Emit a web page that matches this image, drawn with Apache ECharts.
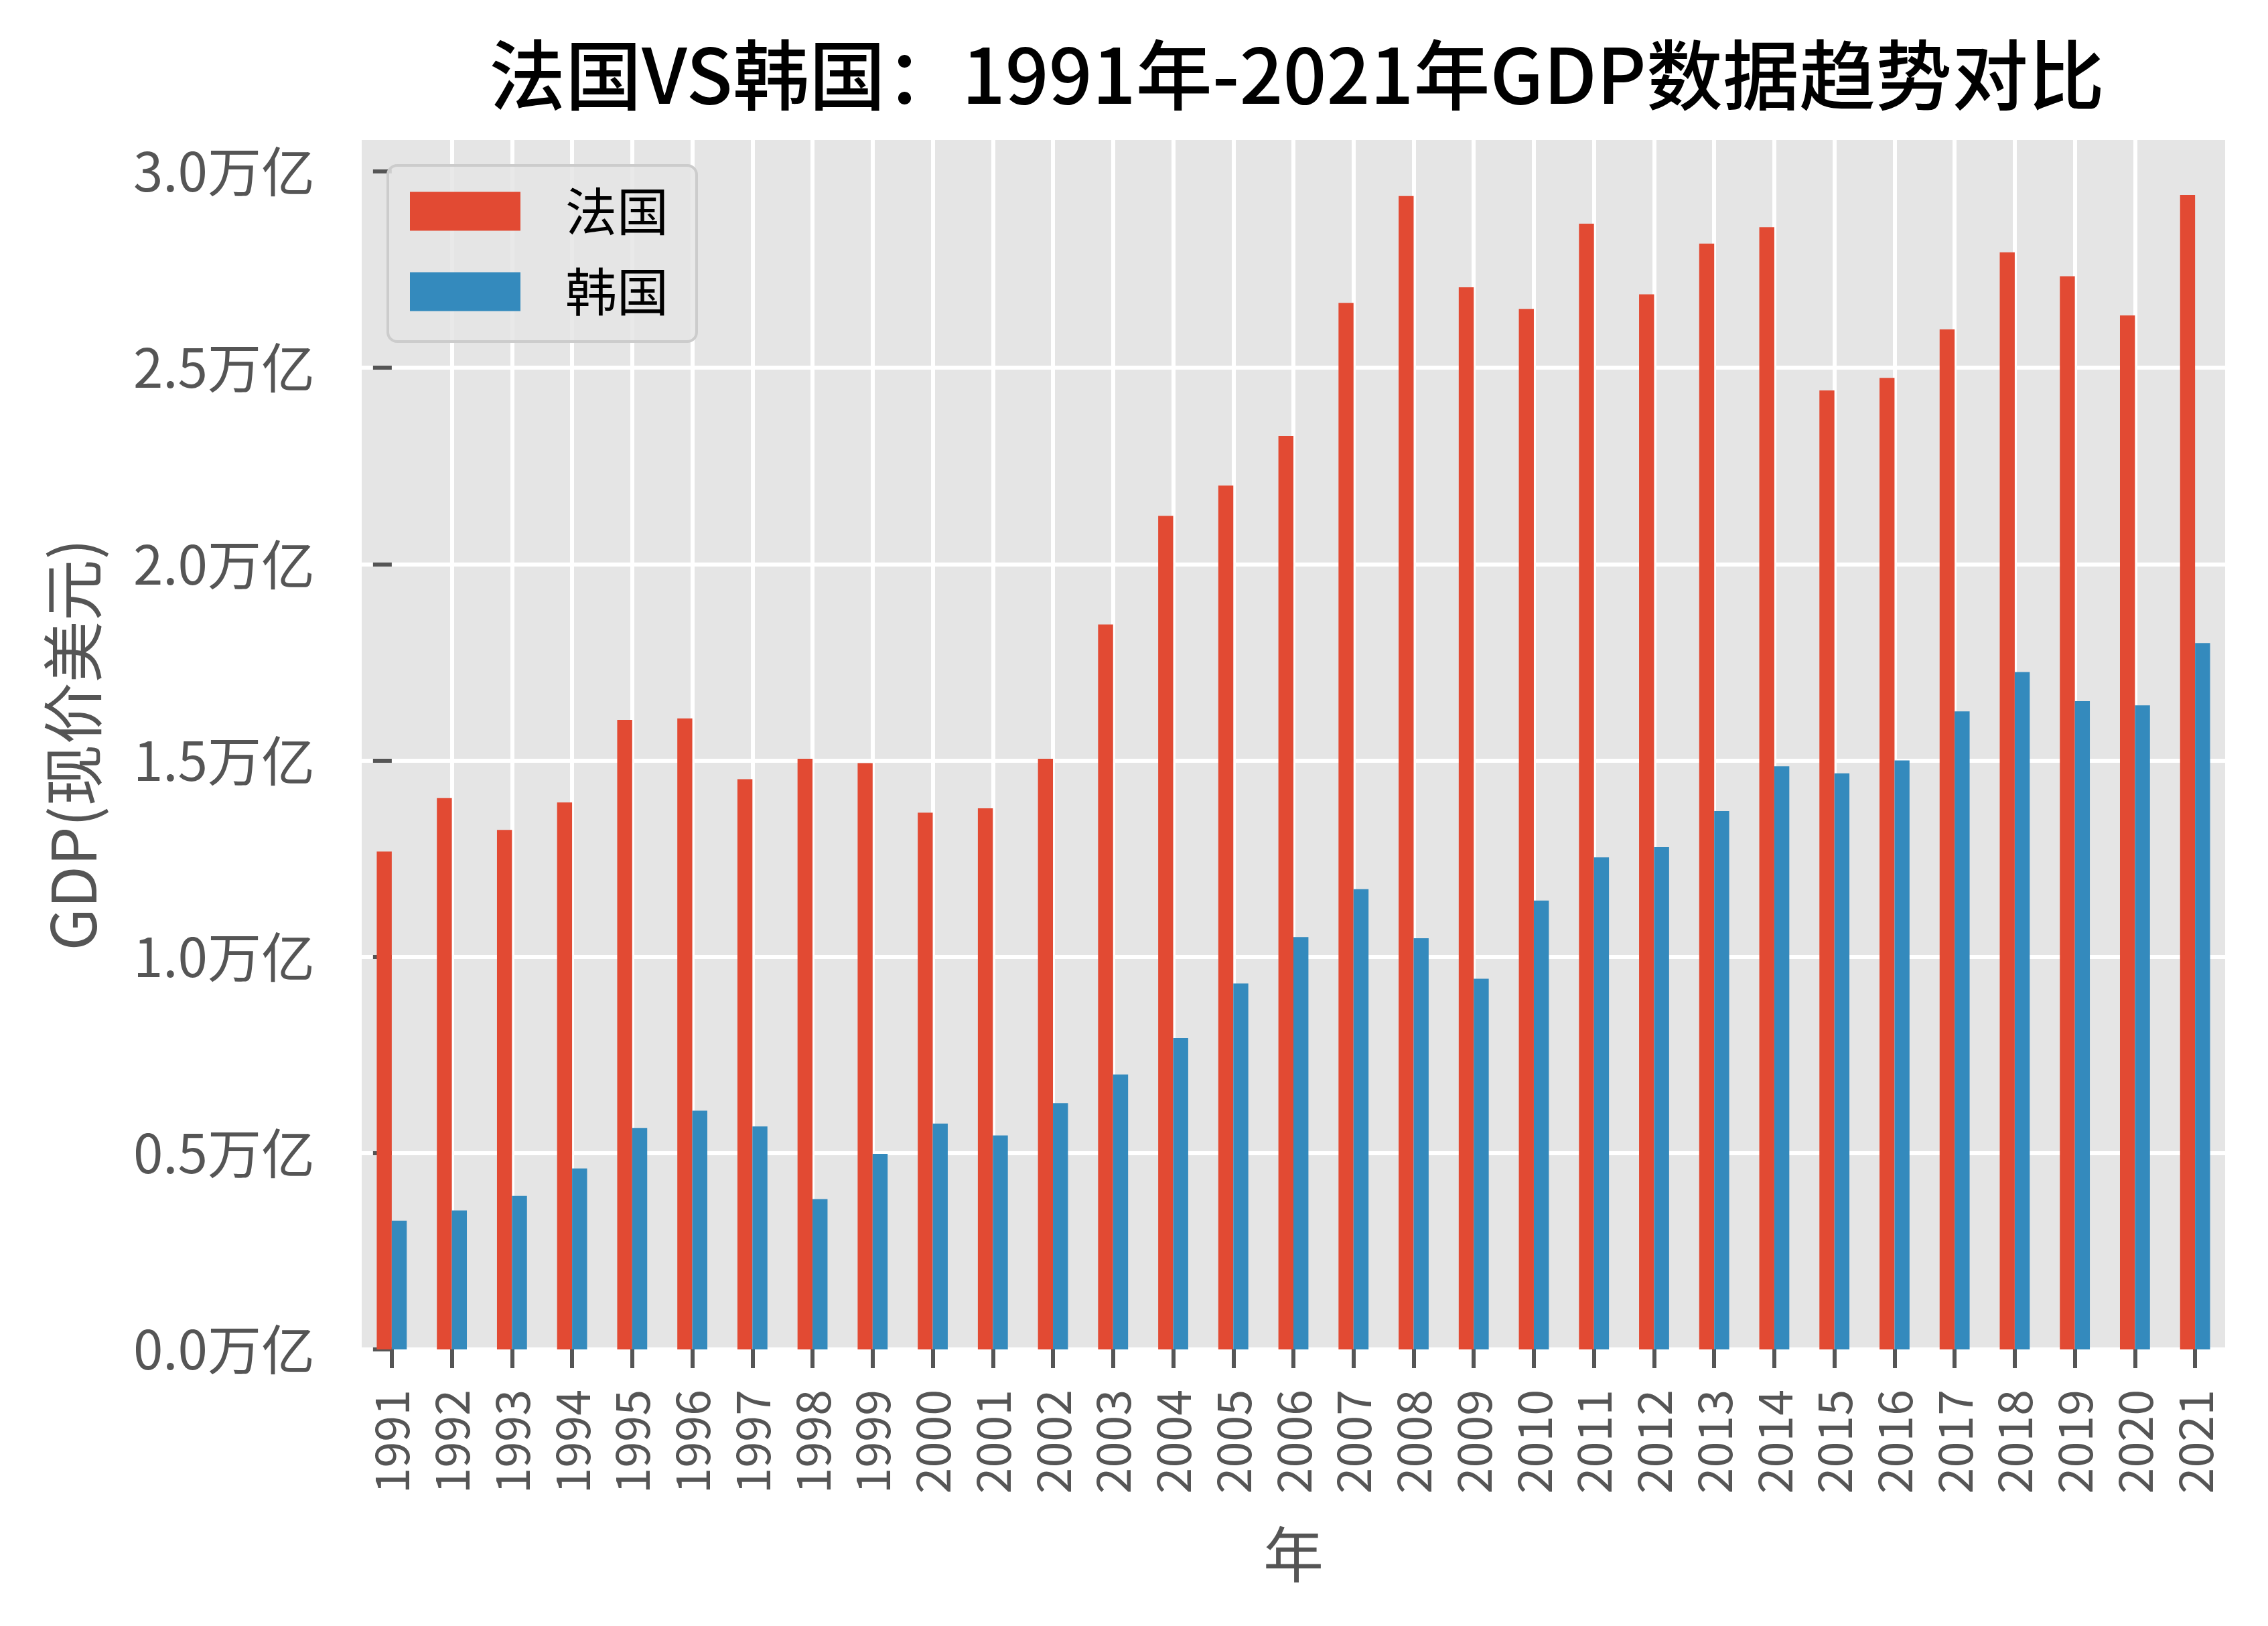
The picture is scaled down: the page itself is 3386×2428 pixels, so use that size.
<!DOCTYPE html>
<html>
<head>
<meta charset="utf-8">
<script src="https://cdn.jsdelivr.net/npm/echarts@6/dist/echarts.min.js"></script>
<style>
html,body{margin:0;padding:0;background:#fff;}
#chart{width:3386px;height:2428px;}
</style>
</head>
<body>
<div id="chart"></div>
<script>
const years = ['1991','1992','1993','1994','1995','1996','1997','1998','1999','2000','2001','2002','2003','2004','2005','2006','2007','2008','2009','2010','2011','2012','2013','2014','2015','2016','2017','2018','2019','2020','2021'];
// GDP in 万亿 (trillion) current USD
const france = [1.268,1.404,1.323,1.393,1.603,1.607,1.452,1.504,1.493,1.367,1.378,1.504,1.846,2.123,2.200,2.326,2.665,2.937,2.705,2.650,2.867,2.687,2.816,2.858,2.442,2.474,2.598,2.794,2.733,2.633,2.940];
const korea = [0.328,0.354,0.391,0.461,0.564,0.608,0.568,0.383,0.498,0.575,0.545,0.627,0.700,0.793,0.932,1.050,1.172,1.047,0.944,1.143,1.253,1.279,1.371,1.485,1.467,1.500,1.625,1.725,1.651,1.640,1.799];
const yTicks = [0, 0.5, 1.0, 1.5, 2.0, 2.5, 3.0];
const seriesNames = ['法国', '韩国'];
const titleText = '法国VS韩国：1991年-2021年GDP数据趋势对比';

const FONT = '"Noto Sans CJK SC", "DejaVu Sans", sans-serif';
const xIdx = years.map((y, i) => i);

const chart = echarts.init(document.getElementById('chart'));
chart.setOption({
  animation: false,
  backgroundColor: '#ffffff',
  textStyle: { fontFamily: FONT },
  title: {
    text: titleText,
    left: 1931,
    textAlign: 'center',
    top: 50,
    textStyle: { fontSize: 114, fontWeight: 500, color: '#000000', fontFamily: FONT }
  },
  legend: {
    data: seriesNames,
    orient: 'vertical',
    left: 579,
    top: 247,
    padding: [30, 42, 36, 33],
    itemWidth: 165,
    itemHeight: 58,
    itemGap: 43,
    icon: 'rect',
    backgroundColor: 'rgba(229,229,229,0.85)',
    borderColor: '#CCCCCC',
    borderWidth: 4,
    borderRadius: 14,
    textStyle: { fontSize: 77, color: '#000000', fontFamily: FONT, padding: [0, 0, 0, 62], lineHeight: 58 }
  },
  grid: {
    left: 540,
    right: 64,
    top: 209,
    bottom: 413,
    show: true,
    backgroundColor: '#E5E5E5',
    borderWidth: 0
  },
  xAxis: {
    type: 'value',
    min: -0.5,
    max: 30.5,
    name: '年',
    nameLocation: 'middle',
    nameGap: 261,
    nameTextStyle: { fontSize: 90, color: '#555555', fontFamily: FONT },
    axisLine: { show: false },
    axisTick: { show: true, length: 28, customValues: xIdx, lineStyle: { color: '#555555', width: 6 } },
    axisLabel: {
      customValues: xIdx,
      rotate: 90,
      margin: 60,
      fontSize: 70,
      color: '#555555',
      fontFamily: FONT,
      formatter: v => years[Math.round(v)]
    },
    splitLine: { show: true, showMinLine: false, showMaxLine: false, lineStyle: { color: '#ffffff', width: 6 } }
  },
  yAxis: {
    type: 'value',
    min: 0,
    max: 3.08,
    interval: 0.5,
    name: 'GDP(现价美元)',
    nameLocation: 'middle',
    nameGap: 385,
    nameRotate: 90,
    nameTextStyle: { fontSize: 92, color: '#555555', fontFamily: FONT },
    axisLine: { show: false },
    axisTick: { show: true, length: 28, customValues: yTicks, lineStyle: { color: '#555555', width: 6 } },
    axisLabel: {
      customValues: yTicks,
      margin: 70,
      fontSize: 80,
      color: '#555555',
      fontFamily: FONT,
      formatter: v => v.toFixed(1) + '万亿'
    },
    splitLine: { show: true, showMaxLine: false, lineStyle: { color: '#ffffff', width: 6 } }
  },
  series: [
    {
      name: seriesNames[0],
      type: 'bar',
      barWidth: 22.4,
      barGap: '0%',
      itemStyle: { color: '#E24A33' },
      data: france.map((v, i) => [xIdx[i], v])
    },
    {
      name: seriesNames[1],
      type: 'bar',
      barWidth: 22.4,
      barGap: '0%',
      itemStyle: { color: '#348ABD' },
      data: korea.map((v, i) => [xIdx[i], v])
    }
  ]
});
</script>
</body>
</html>
